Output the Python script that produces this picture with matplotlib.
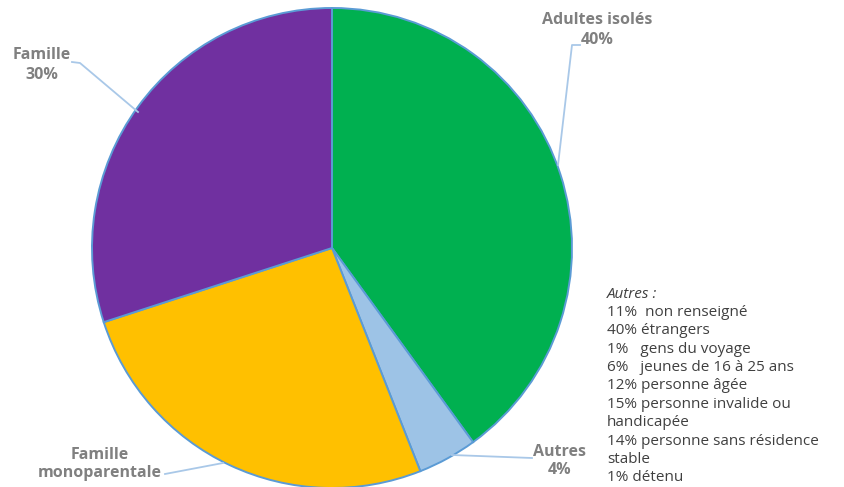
import numpy as np
import matplotlib.pyplot as plt

plt.rcParams['font.family'] = ['Open Sans', 'DejaVu Sans']

# parts of the pie (clockwise from the top)
categories = ['Adultes isolés', 'Autres', 'Famille\nmonoparentale', 'Famille']
values = [40, 4, 26, 30]
colors = ['#00b050', '#9dc3e6', '#ffc000', '#7030a0']

# detail of "Autres"
autres_pct = ['11%', '40%', '1%', '6%', '12%', '15%', '', '14%', '', '1%']
autres_txt = ['  non renseigné', ' étrangers', '   gens du voyage', '   jeunes de 16 à 25 ans',
              ' personne âgée', ' personne invalide ou', 'handicapée',
              ' personne sans résidence', 'stable', ' détenu']

W, H = 845, 487
fig = plt.figure(figsize=(W / 100, H / 100), dpi=100)
ax = fig.add_axes([0, 0, 1, 1])

cx, cy, r = 332, 248, 240
# y axis is inverted, so counterclock=True draws clockwise on screen
wedges, _ = ax.pie(values, colors=colors, startangle=-90, counterclock=True,
                   center=(cx, cy), radius=r, frame=True,
                   wedgeprops=dict(edgecolor='#5b9bd5', linewidth=1.4))
ax.set_xlim(0, W)
ax.set_ylim(H, 0)
ax.set_aspect('equal')
ax.axis('off')

lab_col = '#808080'
line_col = '#a9c8e8'
kw = dict(color=lab_col, fontsize=11.5, fontweight='bold', ha='center')

ax.text(597, 20, categories[0], va='center', **kw)
ax.text(597, 40, f'{values[0]}%', va='center', **kw)
ax.plot([580, 572, 558], [45, 45, 165], color=line_col, lw=1.3)

ax.text(560, 452, categories[1], va='center', **kw)
ax.text(560, 470, f'{values[1]}%', va='center', **kw)
ax.plot([532, 452], [458, 455], color=line_col, lw=1.3)

ax.text(100, 464, categories[2], va='center', linespacing=1.15, **kw)
ax.plot([165, 223], [474, 463], color=line_col, lw=1.3)

ax.text(42, 55, categories[3], va='center', **kw)
ax.text(42, 75, f'{values[3]}%', va='center', **kw)
ax.plot([72, 80, 138], [62, 63, 112], color=line_col, lw=1.3)

# text block
tx, ty, dy = 607, 294, 18.4
ax.text(tx, ty, 'Autres :', style='italic', color='#404040', fontsize=11, va='center')
for i, (p, t) in enumerate(zip(autres_pct, autres_txt)):
    ax.text(tx, ty + dy * (i + 1), p + t, color='#404040', fontsize=11, va='center')

fig.savefig('out.png', dpi=100)
